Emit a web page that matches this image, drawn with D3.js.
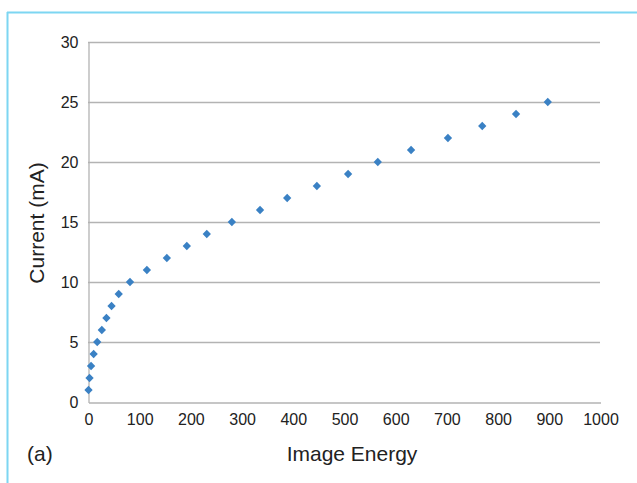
<!DOCTYPE html>
<html>
<head>
<meta charset="utf-8">
<script src="https://cdn.jsdelivr.net/npm/d3@7"></script>
<style>
  body { margin: 0; background: #fff; }
  svg { display: block; font-family: "Liberation Sans", Arial, sans-serif; }
</style>
</head>
<body>
<svg id="chart" width="637" height="483"></svg>
<script>
// Current (mA) vs image energy
const current = [1, 2, 3, 4, 5, 6, 7, 8, 9, 10, 11, 12, 13, 14, 15, 16, 17, 18, 19, 20, 21, 22, 23, 24, 25];
const energy = [1, 3, 6, 11, 18, 27, 36, 46, 60, 82, 115, 154, 193, 232, 281, 336, 389, 447, 508, 566, 631, 703, 770, 836, 898];
const xTicks = [0, 100, 200, 300, 400, 500, 600, 700, 800, 900, 1000];
const yTicks = [0, 5, 10, 15, 20, 25, 30];

const svg = d3.select("#chart");
const margin = {left: 88, right: 37, top: 42, bottom: 81};
const W = 637, H = 483;

// light blue frame of the panel
svg.append("line").attr("x1", 7.5).attr("x2", 7.5).attr("y1", 12).attr("y2", H)
  .attr("stroke", "#7dd6f2").attr("stroke-width", 2);
svg.append("line").attr("x1", 7).attr("x2", W).attr("y1", 12.5).attr("y2", 12.5)
  .attr("stroke", "#7dd6f2").attr("stroke-width", 2);

const x = d3.scaleLinear().domain([0, 1000]).range([margin.left, W - margin.right]);
const y = d3.scaleLinear().domain([0, 30]).range([H - margin.bottom, margin.top]);

// gridlines
svg.append("g")
  .selectAll("line")
  .data(yTicks.filter(d => d > 0))
  .enter().append("line")
  .attr("x1", x(0)).attr("x2", x(1000))
  .attr("y1", d => y(d) + 0.5).attr("y2", d => y(d) + 0.5)
  .attr("stroke", "#b3b3b3").attr("stroke-width", 1.3);

// y axis
const yAxis = svg.append("g")
  .attr("transform", `translate(${x(0) + 0.5},0.5)`)
  .call(d3.axisLeft(y).tickValues(yTicks).tickSize(0).tickPadding(10));
yAxis.select(".domain").attr("stroke", "#b3b3b3").attr("stroke-width", 1.3);
yAxis.selectAll("text").attr("font-size", 16).attr("fill", "#222");

// x axis
const xAxis = svg.append("g")
  .attr("transform", `translate(0.5,${y(0) + 0.5})`)
  .call(d3.axisBottom(x).tickValues(xTicks).tickFormat(d3.format("d")).tickSize(0).tickPadding(11));
xAxis.select(".domain").attr("stroke", "#b3b3b3").attr("stroke-width", 1.3);
xAxis.selectAll("text").attr("font-size", 16).attr("fill", "#222");

// axis titles
svg.append("text")
  .attr("x", 352).attr("y", 461)
  .attr("text-anchor", "middle").attr("font-size", 21).attr("fill", "#222")
  .text("Image Energy");
svg.append("text")
  .attr("transform", `translate(44,${y(15) + 1}) rotate(-90)`)
  .attr("text-anchor", "middle").attr("font-size", 21).attr("fill", "#222")
  .text("Current (mA)");
svg.append("text")
  .attr("x", 27).attr("y", 461)
  .attr("font-size", 21).attr("fill", "#222")
  .text("(a)");

// diamond markers
const pts = current.map((c, i) => ({c, e: energy[i]}));
svg.append("g")
  .selectAll("path")
  .data(pts)
  .enter().append("path")
  .attr("d", d3.symbol().type(d3.symbolDiamond2).size(44))
  .attr("transform", d => `translate(${x(d.e)},${y(d.c)})`)
  .attr("fill", "#3a81c4");
</script>
</body>
</html>
